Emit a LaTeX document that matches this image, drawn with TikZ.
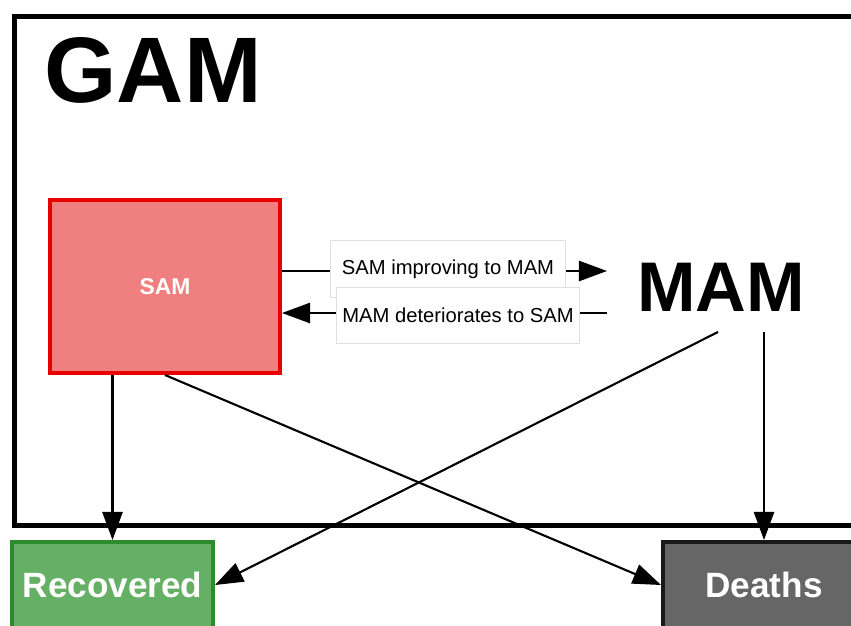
\documentclass[tikz,border=0pt]{standalone}
\usepackage{fontspec}
\setmainfont{Liberation Sans}
\usetikzlibrary{arrows.meta,positioning}

\definecolor{samfill}{RGB}{240,128,128}
\definecolor{samline}{RGB}{232,0,0}
\definecolor{recfill}{RGB}{102,176,102}
\definecolor{recline}{RGB}{42,140,42}
\definecolor{deathfill}{RGB}{102,102,102}

\begin{document}
\begin{tikzpicture}[
    x=0.02cm, y=-0.02cm,
    flow/.style={line width=1.2pt, -{Triangle[length=16pt,width=11.5pt]}},
    statebox/.style={rectangle, line width=2.3pt, text=white, font=\bfseries},
    flowlabel/.style={rectangle, draw=gray!25, fill=white, inner xsep=1pt, font=\fontsize{11.5}{14}\selectfont}
]

\useasboundingbox (0,0) rectangle (851,625);
\clip (0,0) rectangle (851,625);

% GAM frame and title
\node (gamframe) [draw, line width=2.8pt, anchor=north west, minimum width=17.4cm, minimum height=10.18cm] at (12,14) {};
\node (gam) at (153,70) [font=\fontsize{53}{60}\selectfont\bfseries] {GAM};

% States
\node (sam) at (165,286.5) [statebox, draw=samline, fill=samfill, minimum width=4.6cm, minimum height=3.46cm, font=\fontsize{13}{15}\selectfont\bfseries] {SAM};
\node (mam) at (721,287) [font=\fontsize{40}{46}\selectfont\bfseries] {MAM};

% Outcomes
\node (rec) at (112.5,585) [statebox, draw=recline, fill=recfill, minimum width=4.02cm, minimum height=1.72cm, font=\fontsize{20}{24}\selectfont\bfseries] {Recovered};
\node (deaths) at (764,585) [statebox, draw=black!90, fill=deathfill, minimum width=4.04cm, minimum height=1.72cm, font=\fontsize{20}{24}\selectfont\bfseries] {Deaths};

% SAM <-> MAM
\coordinate (impEnd) at (607,271);
\coordinate (detStart) at (607,313);
\draw [flow] (sam.east |- impEnd) -- (impEnd);
\node (improve) at (448,269) [flowlabel, minimum width=4.7cm, minimum height=1.14cm] {SAM improving to MAM};
\draw [flow] (detStart) -- (sam.east |- detStart);
\node (deter) at (458,315) [flowlabel, minimum width=4.86cm, minimum height=1.12cm] {MAM deteriorates to SAM};

% Exits to outcomes
\coordinate (mamOutL) at (718,332);
\coordinate (mamOutR) at (764,332);
\draw [flow] (rec.north |- sam.south) -- (rec.north);
\draw [flow] (sam.south) -- (deaths.west);
\draw [flow] (mamOutL) -- (rec.east);
\draw [flow] (mamOutR) -- (deaths.north);

\end{tikzpicture}
\end{document}
